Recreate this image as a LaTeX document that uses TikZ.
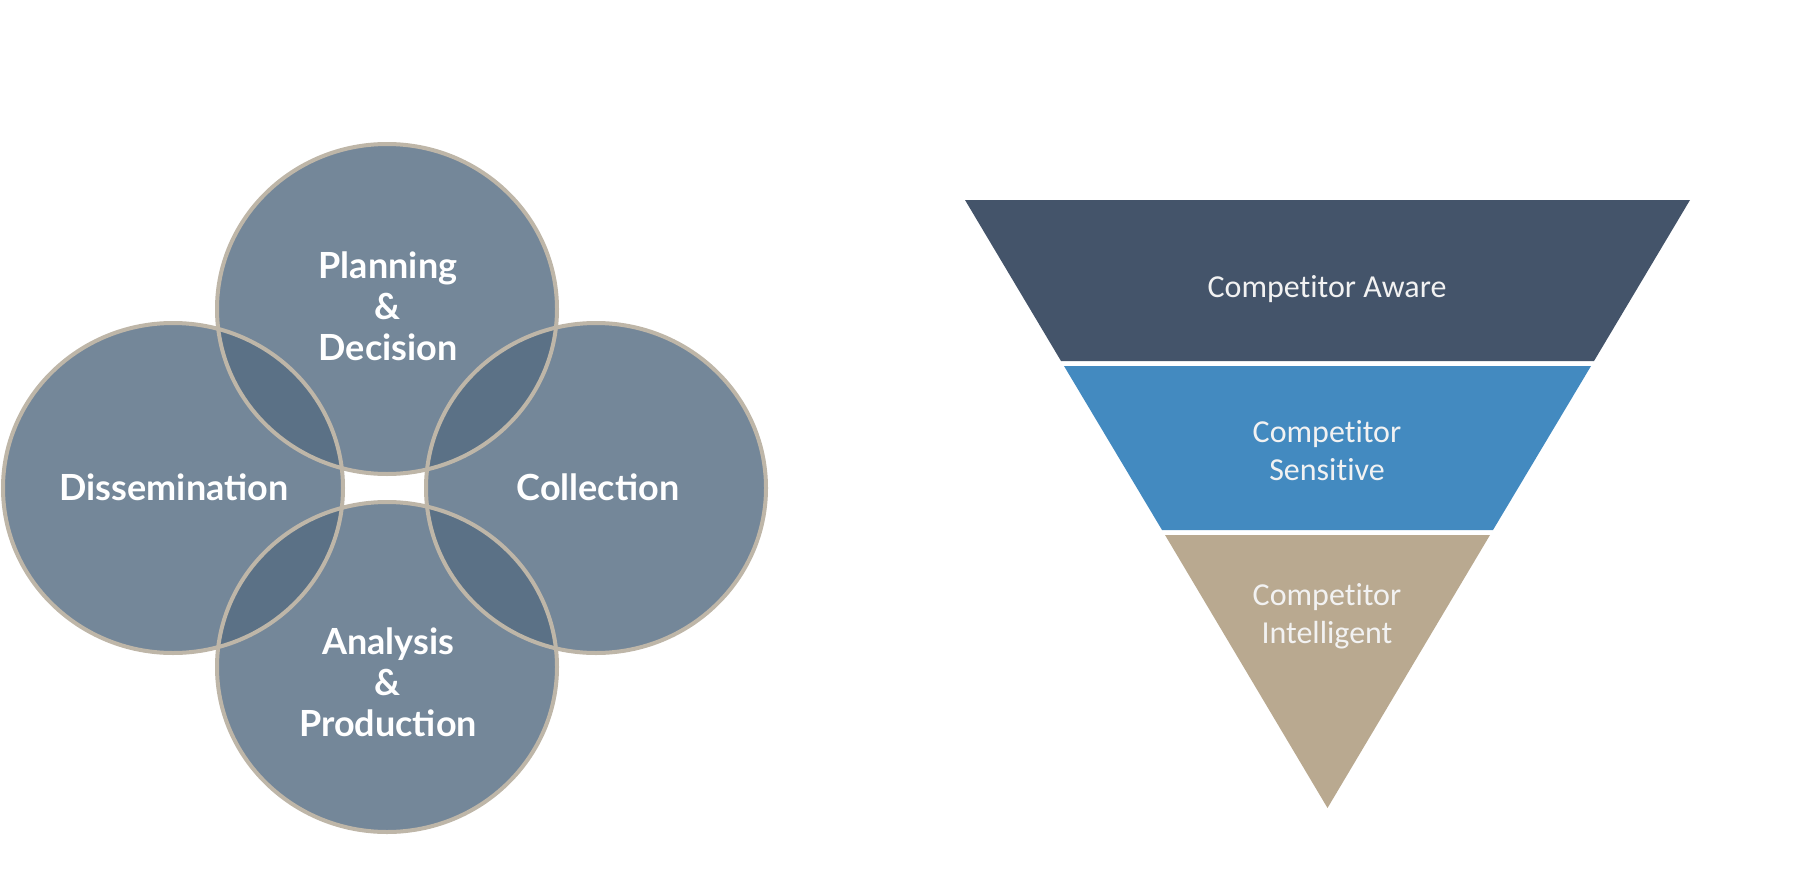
\documentclass[tikz,border=0pt]{standalone}
\usepackage{fontspec}
\setmainfont{Lato}
\newfontfamily\funnelfont[Ligatures=NoCommon]{Carlito}
\definecolor{circfill}{HTML}{748799}
\definecolor{lensfill}{HTML}{5B7186}
\definecolor{circline}{HTML}{BEB6A8}
\definecolor{bandA}{HTML}{44546A}
\definecolor{bandB}{HTML}{438AC0}
\definecolor{bandC}{HTML}{B9A990}
\definecolor{ftextcol}{HTML}{F2F2F2}
\begin{document}
\begin{tikzpicture}[x=1pt,y=-1pt,
  ctext/.style={text=white, align=center, inner sep=0pt, font=\fontsize{36}{41}\selectfont\bfseries},
  ftext/.style={text=ftextcol, align=center, inner sep=0pt, font=\funnelfont\fontsize{32}{38}\selectfont}]
\useasboundingbox (0,0) rectangle (1817,891);
% circle centres
\coordinate (T) at (387,309);
\coordinate (B) at (387,667);
\coordinate (L) at (173,488);
\coordinate (R) at (596,488);
% fills
\foreach \c in {T,B,L,R}
  \fill[circfill] (\c) ellipse [x radius=170pt, y radius=165pt];
% lens overlaps
\begin{scope}
  \clip (T) ellipse [x radius=170pt, y radius=165pt];
  \fill[lensfill] (L) ellipse [x radius=170pt, y radius=165pt];
  \fill[lensfill] (R) ellipse [x radius=170pt, y radius=165pt];
\end{scope}
\begin{scope}
  \clip (B) ellipse [x radius=170pt, y radius=165pt];
  \fill[lensfill] (L) ellipse [x radius=170pt, y radius=165pt];
  \fill[lensfill] (R) ellipse [x radius=170pt, y radius=165pt];
\end{scope}
% outlines
\foreach \c in {T,B,L,R}
  \draw[circline, line width=4pt] (\c) ellipse [x radius=170pt, y radius=165pt];
% circle labels
\node[ctext] (plan) at (388,306) {Planning\\\&\\Decision};
\node[ctext] (diss) at (174,487) {Dissemination};
\node[ctext] (coll) at (598,487) {Collection};
\node[ctext] (anal) at (388,682) {Analysis\\\&\\Production};
% funnel
\fill[bandA] (965,200) -- (1690,200) -- (1594,361) -- (1061,361) -- cycle;
\fill[bandB] (1064,366) -- (1591,366) -- (1493,530) -- (1162,530) -- cycle;
\fill[bandC] (1165,535) -- (1490,535) -- (1327.5,808) -- cycle;
\node[ftext] (aware) at (1327,289) {Competitor Aware};
\node[ftext] (sens) at (1327,451) {Competitor\\Sensitive};
\node[ftext] (intel) at (1327,616) {Competitor\\Intelligent};
\end{tikzpicture}
\end{document}
